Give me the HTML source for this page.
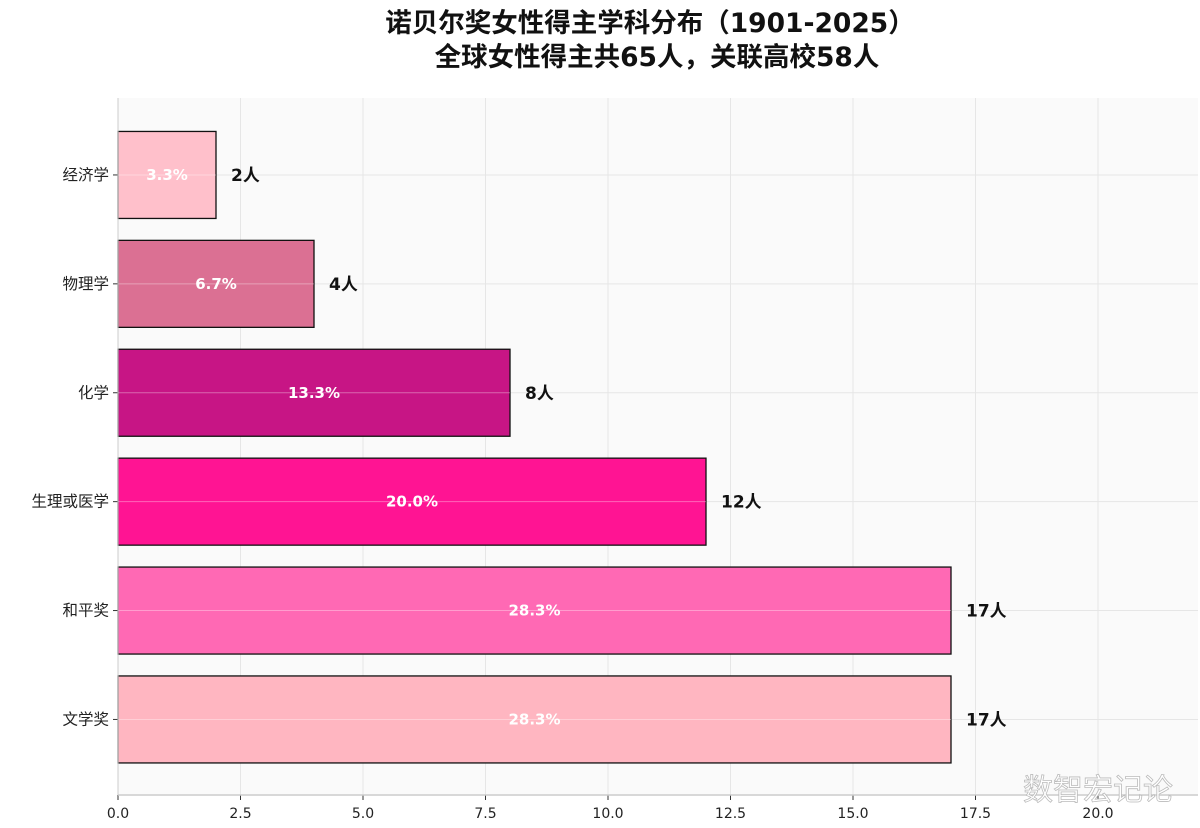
<!DOCTYPE html>
<html><head><meta charset="utf-8">
<style>
html,body{margin:0;padding:0;background:#fff;}
svg{display:block;font-family:"DejaVu Sans","Noto Sans CJK SC",sans-serif;}
</style></head>
<body>
<svg id="chart" width="1200" height="828" viewBox="0 0 1200 828" xmlns="http://www.w3.org/2000/svg">
<text x="650" y="32" text-anchor="middle" font-size="26.5" font-weight="bold" fill="#111">诺贝尔奖女性得主学科分布（1901-2025）</text>
<text x="657" y="66" text-anchor="middle" font-size="26.5" font-weight="bold" fill="#111">全球女性得主共65人，关联高校58人</text>
<rect x="118" y="98" width="1080" height="697" fill="#fafafa"/>
<g id="grid"></g>
<g id="bars"></g>
<g id="axes"></g>
<text x="1098" y="800" text-anchor="middle" font-size="30" fill="#fff" stroke="#bbb" stroke-width="0.8">数智宏记论</text>
</svg>
<script>
const categories = ["经济学","物理学","化学","生理或医学","和平奖","文学奖"];
const counts = [2,4,8,12,17,17];
const percents = ["3.3%","6.7%","13.3%","20.0%","28.3%","28.3%"];
const colors = ["#FFC0CB","#DB7093","#C71585","#FF1493","#FF69B4","#FFB6C1"];
const xTicks = [0,2.5,5,7.5,10,12.5,15,17.5,20];

const NS="http://www.w3.org/2000/svg";
const x0=118, pxPerUnit=49, yTop=98, yBot=795;
const xScale=v=>x0+v*pxPerUnit;
const rowTop=120.5, rowStep=108.9, barH=87;
const yCenter=i=>rowTop+rowStep*(i+0.5);
function mk(tag,attrs,parent){const e=document.createElementNS(NS,tag);for(const k in attrs)e.setAttribute(k,attrs[k]);parent.appendChild(e);return e;}
const grid=document.getElementById('grid'),bars=document.getElementById('bars'),axes=document.getElementById('axes');

xTicks.forEach(t=>{
  const l=mk('line',{x1:xScale(t),x2:xScale(t),y1:yTop,y2:yBot,stroke:'#e6e6e6','stroke-width':1},grid);
  
  
  const tk=mk('line',{x1:xScale(t),x2:xScale(t),y1:yBot,y2:yBot+5,stroke:'#333','stroke-width':1},axes);
  
  
  const tx=mk('text',{x:xScale(t),y:yBot+23,'text-anchor':'middle','font-size':14,fill:'#222'},axes);
  tx.textContent=t.toFixed(1);
  
  
});
categories.forEach((c,i)=>{
  const gl=mk('line',{x1:x0,x2:1198,y1:yCenter(i),y2:yCenter(i),stroke:'#e6e6e6','stroke-width':1},grid);
  
  
  const r=mk('rect',{x:x0,y:yCenter(i)-barH/2,width:xScale(counts[i])-x0,height:barH,fill:colors[i],stroke:'#111','stroke-width':1.3},bars);
  
  
  const hl=mk('line',{x1:x0,x2:xScale(counts[i]),y1:yCenter(i),y2:yCenter(i),stroke:'#ffffff','stroke-opacity':0.35,'stroke-width':1},bars);
  
  
  const pt=mk('text',{x:xScale(counts[i]/2),y:yCenter(i)+5,'text-anchor':'middle','font-size':15,'font-weight':'bold',fill:'#fff'},bars);
  pt.textContent=percents[i];
  
  
  const ct=mk('text',{x:xScale(counts[i])+15,y:yCenter(i)+6,'font-size':17,'font-weight':'bold',fill:'#111'},bars);
  ct.textContent=counts[i]+'人';
  
  
  const yt=mk('line',{x1:x0-5,x2:x0,y1:yCenter(i),y2:yCenter(i),stroke:'#333','stroke-width':1},axes);
  
  
  const yl=mk('text',{x:x0-9,y:yCenter(i)+5,'text-anchor':'end','font-size':15.5,fill:'#222'},axes);
  yl.textContent=c;
  
  
});
const ya=mk('line',{x1:x0,x2:x0,y1:yTop,y2:yBot,stroke:'#ccc','stroke-width':1},axes);


const xa=mk('line',{x1:x0,x2:1198,y1:yBot,y2:yBot,stroke:'#ccc','stroke-width':1.5},axes);


</script>
</body></html>
